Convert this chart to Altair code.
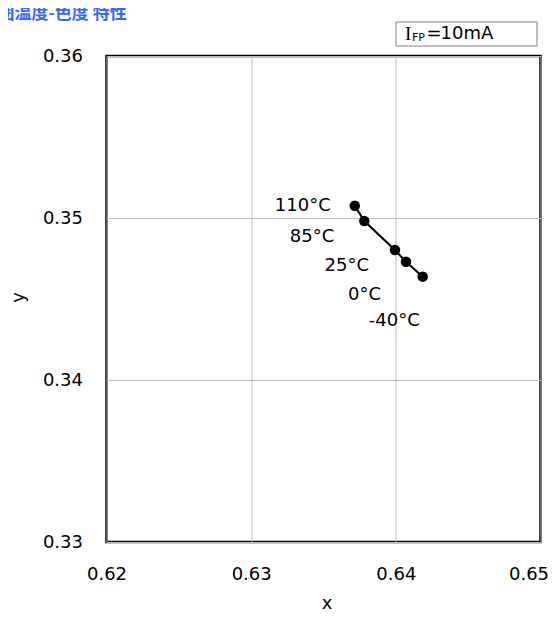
import altair as alt
import pandas as pd

# data
temps = ["110°C", "85°C", "25°C", "0°C", "-40°C"]
cx = [0.63716, 0.63782, 0.63994, 0.64070, 0.64186]
cy = [0.35076, 0.34981, 0.34802, 0.34730, 0.34638]
x_ticks = [0.62, 0.63, 0.64, 0.65]
y_ticks = [0.33, 0.34, 0.35, 0.36]
title_text = "周囲温度-色度 特性"
cond_main = "I"
cond_sub = "FP"
cond_rest = "10mA"

# label offsets (pixels) from each point, style only
label_dx = [-24, -30, -26, -25, -3]
label_dy = [0, 16, 16, 33, 44]

df = pd.DataFrame({"x": cx, "y": cy, "t": temps, "order": list(range(len(temps)))})

W, H = 434, 486
FONT = "DejaVu Sans"

xs = alt.Scale(domain=[0.62, 0.65], nice=False, zero=False)
ys = alt.Scale(domain=[0.33, 0.36], nice=False, zero=False)

xenc = alt.X("x:Q", scale=xs, axis=alt.Axis(
    values=x_ticks, format=".2f", title="x", labelFlush=False,
    labelOffset=alt.condition("datum.value > 0.649", alt.value(-12), alt.value(0)),
    labelPadding=23, labelBaseline="top",
    titleY=61, titleX=220, titleBaseline="middle"))
yenc = alt.Y("y:Q", scale=ys, axis=alt.Axis(
    values=y_ticks, format=".2f", title="y", labelFlush=False,
    labelPadding=24, titleX=-88, titleY=241,
    titleBaseline="middle", titleAngle=270))

base = alt.Chart(df)
line = base.mark_line(color="black", strokeWidth=2).encode(x=xenc, y=yenc, order="order:Q")
pts = base.mark_circle(color="black", opacity=1, size=110).encode(x="x:Q", y="y:Q")

labels = []
for i in range(len(temps)):
    labels.append(
        alt.Chart(df.iloc[[i]]).mark_text(
            align="right", baseline="middle", dx=label_dx[i], dy=label_dy[i],
            font=FONT, fontSize=18, color="black"
        ).encode(x="x:Q", y="y:Q", text="t:N")
    )

ann = pd.DataFrame({"a": [0]})
title = alt.Chart(ann).mark_text(
    align="left", baseline="middle", font="Noto Sans CJK JP", fontWeight="bold",
    fontSize=17, color="#3366ff"
).encode(x=alt.value(-126), y=alt.value(-42), text=alt.value(title_text))

box = alt.Chart(ann).mark_rect(fill="white", stroke="#808080", strokeWidth=1).encode(
    x=alt.value(289.5), x2=alt.value(430.5), y=alt.value(-34), y2=alt.value(-10)
)
t_i = alt.Chart(ann).mark_text(align="left", baseline="middle", font="Liberation Serif",
                               fontSize=19, color="black").encode(
    x=alt.value(298.5), y=alt.value(-22), text=alt.value(cond_main))
t_sub = alt.Chart(ann).mark_text(align="left", baseline="middle", font=FONT,
                                 fontSize=11, color="black").encode(
    x=alt.value(305.5), y=alt.value(-18), text=alt.value(cond_sub))
t_eq = alt.Chart(ann).mark_text(align="left", baseline="middle", font=FONT,
                                fontSize=18, color="black").encode(
    x=alt.value(320), y=alt.value(-22), text=alt.value("="))
t_rest = alt.Chart(ann).mark_text(align="left", baseline="middle", font=FONT,
                                  fontSize=18, color="black").encode(
    x=alt.value(334), y=alt.value(-22), text=alt.value(cond_rest))

chart = alt.layer(line, pts, *labels, title, box, t_i, t_sub, t_eq, t_rest).properties(
    width=W, height=H,
    autosize=alt.AutoSizeParams(type="none"),
    padding={"left": 98.5, "top": 48, "right": 9, "bottom": 70},
).configure_view(stroke="black", strokeWidth=2.5).configure_axis(
    grid=True, gridColor="#bdbdbd", gridWidth=1, domain=False, ticks=False,
    labelFont=FONT, labelFontSize=18, labelColor="black",
    titleFont=FONT, titleFontSize=18, titleColor="black", titleFontWeight="normal",
)

chart.save("out.html", embed_options={"renderer": "svg", "actions": False})
